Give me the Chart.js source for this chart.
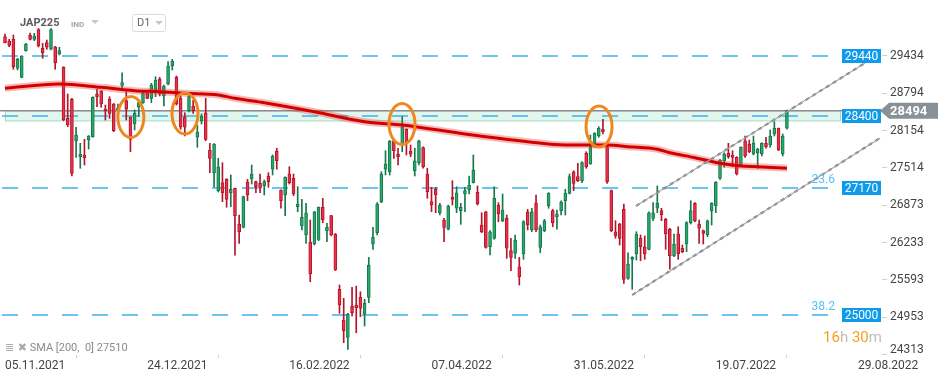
<!DOCTYPE html>
<html>
<head>
<meta charset="utf-8">
<script src="https://cdn.jsdelivr.net/npm/chart.js@4.4.0/dist/chart.umd.min.js"></script>
<style>
  body { margin: 0; background: #fff; font-family: Roboto, sans-serif; }
  #wrap { position: relative; width: 949px; height: 381px; }
  canvas { position: absolute; left: 0; top: 0; }
  .ov { position: absolute; white-space: nowrap; }
</style>
</head>
<body>
<div id="wrap">
  <canvas id="chart" width="949" height="381"></canvas>
  <div class="ov" style="left:20px;top:16px;font:bold 11px Roboto;color:#5a5a5a">JAP225</div>
  <div class="ov" style="left:71px;top:20px;font:bold 8px Roboto;color:#a0a7ad">IND</div>
  <div class="ov" style="left:91px;top:20px;width:0;height:0;border-left:4px solid transparent;border-right:4px solid transparent;border-top:4px solid #c8c8c8"></div>
  <div class="ov" style="left:132px;top:14px;width:32px;height:16px;border:1px solid #dcdcdc;border-radius:3px"></div>
  <div class="ov" style="left:137px;top:16px;font:11px Roboto;color:#666">D1</div>
  <div class="ov" style="left:155px;top:21px;width:0;height:0;border-left:4px solid transparent;border-right:4px solid transparent;border-top:4px solid #c8c8c8"></div>
  <div class="ov" style="left:5px;top:341px;font:11px Roboto;color:#8a8a8a"><span style="font-family:'DejaVu Sans';color:#aaa">&#8803; &#10006;</span> SMA [200,&nbsp; 0] 27510</div>
  <div class="ov" style="left:823px;top:328px;font:15px Roboto"><span style="color:#f6a01a">16</span><span style="color:#bdbdbd">h</span> <span style="color:#f6a01a">30</span><span style="color:#bdbdbd">m</span></div>
</div>
<script>
// daily candles, 05.11.2021 .. 11.08.2022
var open = [
  29765,29691,29720,29223,29068,29525,29794,29720,29888,29566,
  29662,29549,29593,29468,29240,28365,28691,27981,27707,27736,
  27993,28050,28782,28833,28520,28691,28610,28508,28931,28667,
  28382,28267,28554,28633,28794,28708,28821,29034,28748,28953,
  29262,29068,28708,28382,28496,28576,28040,28324,28461,27822,
  27432,27124,27261,27319,27089,27165,26552,26496,27268,27324,
  27278,27250,27204,27376,27491,27804,27136,27050,27410,27336,
  26849,26523,26364,26244,26209,26290,26839,26438,26695,26381,
  25433,24906,24609,25146,25163,25295,25009,25295,26209,26403,
  26935,27491,27449,27981,27748,27907,28177,27804,27467,27604,
  27861,27410,26935,27148,26746,26621,26462,27010,26822,26781,
  27067,27136,27261,27096,26535,26763,26163,26307,26879,26609,
  26650,26095,26050,25820,26038,26763,26450,26907,26153,26438,
  26866,26781,26678,26781,26952,27079,27449,27364,27295,27765,
  27581,27878,28062,28177,27878,27124,26420,26552,26805,25621,
  25947,26038,26307,26163,26118,26650,26822,26781,26633,26462,
  26004,26381,26136,26209,26575,26907,26552,26438,26364,26781,
  26866,27336,27638,27765,27736,27696,27564,27981,27924,27753,
  27775,27753,27936,27907,28096,28194,27753,28194
];
var high = [
  29811,29720,29794,29394,29440,29650,29828,29823,29905,29651,
  29708,29905,29600,29583,29250,28782,28708,28211,27936,28005,
  28070,28735,28863,28840,28593,28736,28620,28610,29147,28821,
  28390,28508,28679,28815,28800,28965,29079,29068,28936,29336,
  29377,29091,28748,28461,28765,28679,28250,28439,28708,27936,
  27930,27679,27604,27330,27393,27170,26707,27030,27319,27564,
  27290,27410,27307,27432,27736,27851,27140,27360,27535,27410,
  27192,26976,26907,26621,26770,26845,26993,26565,26700,26390,
  25506,25278,25021,25467,25489,25391,25261,25981,26496,26918,
  27449,27810,27985,27990,27851,28393,28185,27907,27851,27993,
  27878,27508,27182,27182,26907,26650,26878,27295,27192,26907,
  27182,27376,27736,27204,26746,26770,26438,27192,26918,27067,
  26707,26307,26364,25981,26609,26805,26822,27050,26535,26633,
  27089,26805,26793,26952,27148,27410,27467,27593,27621,27792,
  28079,28118,28221,28348,27907,27136,26609,26565,26895,26060,
  25992,26420,26364,26347,26763,26918,27204,26822,26650,26479,
  26381,26506,26192,26592,26952,26918,26621,26450,26621,26918,
  27278,27660,27775,27936,27810,27707,27878,28062,27993,28062,
  27851,27947,28040,28165,28307,28200,28096,28508
];
var low = [
  29657,29593,29206,29194,29060,29515,29708,29696,29588,29394,
  29549,29537,29206,29451,28324,28221,27376,27696,27508,27564,
  27839,28040,28564,28554,28336,28365,28136,28439,28880,28336,
  27792,28165,28393,28620,28700,28633,28736,28748,28576,28936,
  29194,28593,28177,28062,28473,28451,27868,28267,27981,27432,
  27187,27101,26935,26839,26849,26016,26221,26485,26952,27238,
  27089,27089,27050,27182,27393,27491,26822,26695,27238,27038,
  26763,26450,26221,25563,26192,26266,26575,26249,26347,25755,
  25021,24517,24403,24975,24688,24963,24803,25203,26118,26364,
  26918,27393,27393,27679,27564,27792,27736,27707,27376,27564,
  27508,26993,26763,26746,26707,26249,26450,26879,26746,26547,
  26763,27067,27255,26878,26403,26136,26021,26290,26592,26592,
  25964,25752,25964,25506,25947,26450,26420,26420,26060,26420,
  26822,26506,26462,26707,26707,27067,27124,27278,27261,27508,
  27575,27868,28040,28096,27250,26420,26307,26192,25535,25604,
  25433,25935,25923,25947,26107,26609,26746,26609,26118,25776,
  25992,25947,26060,26078,26552,26592,26221,26209,26335,26535,
  26746,27319,27525,27679,27535,27393,27535,27696,27775,27736,
  27508,27719,27851,27868,28062,27810,27719,28177
];
var close = [
  29662,29617,29250,29377,29434,29639,29720,29777,29605,29490,
  29583,29888,29319,29525,28336,28250,27422,28079,27753,27690,
  28062,28725,28736,28610,28496,28451,28153,28542,28976,28520,
  28005,28451,28633,28804,28708,28936,29022,28782,28919,29262,
  29348,28610,28211,28211,28736,28496,28130,28405,28005,27679,
  27924,27535,27089,26976,27148,26695,26420,27021,27050,27410,
  27192,27165,27278,27278,27719,27638,26952,27353,27261,27067,
  26895,26667,26746,25695,26763,26839,26621,26496,26364,25764,
  25163,24723,25009,25031,25117,25107,25192,25849,26324,26895,
  27410,27581,27976,27810,27707,28221,27947,27748,27638,27976,
  27535,27107,26879,27050,26879,26496,26861,26976,27089,26839,
  27124,27221,27479,26895,26420,26153,26420,26993,26724,26793,
  26136,25981,26278,25649,26592,26535,26763,26450,26506,26609,
  27079,26575,26724,26925,27079,27364,27250,27295,27604,27535,
  27878,28108,28194,28136,27278,26438,26347,26307,25604,25866,
  25981,26381,26163,26038,26746,26746,26907,26707,26381,26004,
  26209,26038,26078,26575,26781,26609,26479,26393,26609,26907,
  27268,27650,27753,27707,27696,27410,27868,27719,27792,27936,
  27834,27936,27878,28062,28194,27822,28062,28494
];

// SMA(200) at a few bars
var smaIdx = [0,13,23,31,37,43,51,55,62,74,86,95,110,125,134,144,149,156,159,165,171,176,180,187];
var smaVal = [28880,28953,28897,28839,28822,28794,28765,28708,28633,28478,28307,28250,28096,27964,27907,27907,27878,27834,27775,27690,27593,27547,27535,27510];

var dateIdx = [0,34,68,102,136,170,204];
var dates = ['05.11.2021','24.12.2021','16.02.2022','07.04.2022','31.05.2022','19.07.2022','29.08.2022'];
var yTicks = [29434,28794,28154,27514,26873,26233,25593,24953,24313];

var levels = [29440, 28400, 27170, 25000];
var fibText = ['23.6', '38.2'];
var fibLevel = [27170, 25000];
var zone = [28320, 28494];
var lastPrice = 28494;
var circleIdx = [30.1, 43.05, 94.95, 142.07];
var circleVal = [28388, 28448, 28268, 28225];
var upperChannel = [{x: 150.9, y: 26861}, {x: 205.7, y: 29314}];
var lowerChannel = [{x: 150, y: 25335}, {x: 209.3, y: 28028}];

var isUp = function (i) { return close[i] >= open[i]; };
var bodies = close.map(function (c, i) { return {x: i, y: [open[i], c]}; });
var wicks = close.map(function (c, i) { return {x: i, y: [low[i], high[i]]}; });
var sma = smaIdx.map(function (x, i) { return {x: x, y: smaVal[i]}; });

var overlay = {
  id: 'overlay',
  beforeDatasetsDraw: function (chart) {
    var ctx = chart.ctx, a = chart.chartArea, x = chart.scales.x, y = chart.scales.y;
    var right = a.right - 42;
    ctx.save();
    var x0 = x.getPixelForValue(0);
    var zt = y.getPixelForValue(zone[1]), zb = y.getPixelForValue(zone[0]);
    ctx.fillStyle = '#e3f6ee';
    ctx.fillRect(x0, zt, right - x0, zb - zt);
    ctx.strokeStyle = '#a3dcc3';
    ctx.lineWidth = 1;
    ctx.strokeRect(x0 + 0.5, zt, right - x0, zb - zt);
    ctx.setLineDash([16, 14]);
    ctx.lineWidth = 1.5;
    ctx.strokeStyle = '#3ab3ee';
    levels.forEach(function (v) {
      var py = Math.round(y.getPixelForValue(v));
      ctx.beginPath();
      ctx.moveTo(a.left + 2, py);
      ctx.lineTo(right, py);
      ctx.stroke();
    });
    ctx.setLineDash([]);
    var pp = y.getPixelForValue(lastPrice);
    ctx.strokeStyle = '#8c8c8c';
    ctx.lineWidth = 1.5;
    ctx.beginPath();
    ctx.moveTo(a.left, pp);
    ctx.lineTo(a.right, pp);
    ctx.stroke();
    ctx.restore();
  },
  afterDatasetsDraw: function (chart) {
    var ctx = chart.ctx, a = chart.chartArea, x = chart.scales.x, y = chart.scales.y;
    ctx.save();
    ctx.strokeStyle = '#f0861c';
    ctx.lineWidth = 3;
    circleIdx.forEach(function (ci, k) {
      ctx.beginPath();
      ctx.ellipse(x.getPixelForValue(ci), y.getPixelForValue(circleVal[k]), 13, 20.5, 0, 0, Math.PI * 2);
      ctx.stroke();
    });
    ctx.font = '12px Roboto';
    ctx.textBaseline = 'middle';
    levels.forEach(function (v) {
      var py = Math.round(y.getPixelForValue(v));
      ctx.fillStyle = '#0f9bec';
      ctx.fillRect(a.right - 40, py - 7, 39, 14);
      ctx.fillStyle = '#fff';
      ctx.textAlign = 'center';
      ctx.fillText(String(v), a.right - 20.5, py + 0.5);
    });
    ctx.fillStyle = '#55c3f7';
    ctx.textAlign = 'right';
    fibText.forEach(function (t, k) {
      ctx.fillText(t, a.right - 47, y.getPixelForValue(fibLevel[k]) - 8);
    });
    ctx.restore();
  },
  afterDraw: function (chart) {
    var ctx = chart.ctx, a = chart.chartArea, y = chart.scales.y;
    var py = y.getPixelForValue(lastPrice);
    ctx.save();
    ctx.fillStyle = '#8a9196';
    ctx.beginPath();
    ctx.moveTo(a.right - 2, py);
    ctx.lineTo(a.right + 7, py - 8);
    ctx.lineTo(a.right + 56, py - 8);
    ctx.lineTo(a.right + 56, py + 8);
    ctx.lineTo(a.right + 7, py + 8);
    ctx.closePath();
    ctx.fill();
    ctx.fillStyle = '#fff';
    ctx.font = 'bold 13px Roboto';
    ctx.textAlign = 'left';
    ctx.textBaseline = 'middle';
    ctx.fillText(String(lastPrice), a.right + 8, py + 0.5);
    ctx.restore();
  }
};

var ctx = document.getElementById('chart');
var chart = new Chart(ctx, {
  type: 'bar',
  data: {
    datasets: [
      {
        type: 'line', data: upperChannel, borderColor: '#a8a8a8', borderWidth: 1.2,
        pointRadius: 0, order: 1
      },
      {
        type: 'line', data: upperChannel, borderColor: '#5f5f5f', borderWidth: 2,
        borderDash: [4, 4], pointRadius: 0, order: 1
      },
      {
        type: 'line', data: lowerChannel, borderColor: '#a8a8a8', borderWidth: 1.2,
        pointRadius: 0, order: 1
      },
      {
        type: 'line', data: lowerChannel, borderColor: '#5f5f5f', borderWidth: 2,
        borderDash: [4, 4], pointRadius: 0, order: 1
      },
      {
        type: 'line', data: sma, borderColor: 'rgba(225,60,60,0.35)', borderWidth: 7,
        pointRadius: 0, cubicInterpolationMode: 'monotone', order: 3
      },
      {
        type: 'line', data: sma, borderColor: '#d40000', borderWidth: 3,
        pointRadius: 0, cubicInterpolationMode: 'monotone', order: 2
      },
      {
        data: wicks, barThickness: 1, grouped: false, order: 5,
        backgroundColor: function (c) { return isUp(c.dataIndex) ? '#16784c' : '#b5142b'; }
      },
      {
        data: bodies, barThickness: 3, grouped: false, order: 4, minBarLength: 1,
        borderWidth: 1, borderSkipped: false,
        borderColor: function (c) { return isUp(c.dataIndex) ? '#16784c' : '#b5142b'; },
        backgroundColor: function (c) { return isUp(c.dataIndex) ? '#2aa86c' : '#e8334a'; }
      }
    ]
  },
  options: {
    responsive: false,
    animation: false,
    plugins: { legend: { display: false }, tooltip: { enabled: false } },
    scales: {
      x: {
        type: 'linear', offset: false, min: -1.196, max: 209.74,
        afterBuildTicks: function (s) { s.ticks = dateIdx.map(function (v) { return {value: v}; }); },
        afterFit: function (s) { s.height = 26; s.paddingLeft = 0; s.paddingRight = 0; },
        grid: { drawOnChartArea: false, tickLength: 3, color: '#d0d0d0' },
        border: { display: false },
        ticks: {
          align: 'start', autoSkip: false, maxRotation: 0, padding: 1,
          color: '#444', font: { family: 'Roboto', size: 12 },
          callback: function (v) { return dates[dateIdx.indexOf(v)]; }
        }
      },
      y: {
        position: 'right', min: 24306, max: 30394,
        afterBuildTicks: function (s) { s.ticks = yTicks.map(function (v) { return {value: v}; }); },
        afterFit: function (s) { s.width = 67; s.paddingTop = 0; s.paddingBottom = 0; },
        grid: { drawOnChartArea: false, tickLength: 5, color: '#d0d0d0' },
        border: { display: false },
        ticks: {
          padding: 3, color: '#444',
          font: function (c) {
            return c.index === yTicks.length - 1
              ? { family: 'Roboto', size: 12, lineHeight: 0.8 }
              : { family: 'Roboto', size: 12 };
          },
          callback: function (v, i) { return i === yTicks.length - 1 ? [String(v), ''] : String(v); }
        }
      }
    }
  },
  plugins: [overlay]
});
</script>
</body>
</html>
